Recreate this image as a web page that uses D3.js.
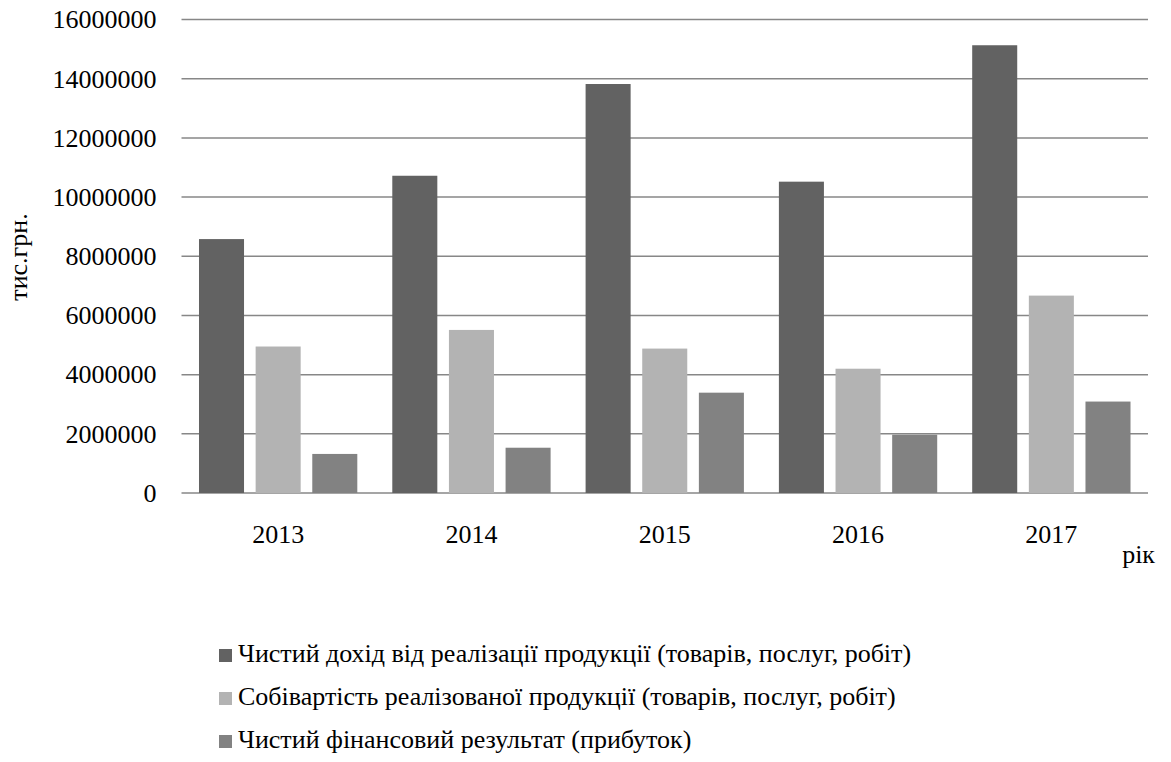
<!DOCTYPE html>
<html>
<head>
<meta charset="utf-8">
<script src="https://cdn.jsdelivr.net/npm/d3@7"></script>
<style>
  html, body { margin: 0; padding: 0; background: #fff; }
  svg text { font-family: "Liberation Serif", "Tinos", "DejaVu Serif", "Noto Serif", serif; fill: #000; }
</style>
</head>
<body>
<div id="chart"></div>
<script>
const years = ["2013", "2014", "2015", "2016", "2017"];
const seriesNames = [
  "Чистий дохід від реалізації продукції (товарів, послуг, робіт)",
  "Собівартість реалізованої продукції (товарів, послуг, робіт)",
  "Чистий фінансовий результат (прибуток)"
];
const netIncome = [8580000, 10720000, 13820000, 10520000, 15130000];
const costOfSales = [4950000, 5510000, 4880000, 4200000, 6670000];
const netProfit = [1320000, 1530000, 3390000, 1970000, 3090000];
const yTicks = [0, 2000000, 4000000, 6000000, 8000000, 10000000, 12000000, 14000000, 16000000];
const seriesColors = ["#626262", "#b3b3b3", "#828282"];

const fontFamily = "'Liberation Serif', 'Tinos', 'DejaVu Serif', 'Noto Serif', serif";
const width = 1171;
const height = 762;
const margin = { top: 19.5, right: 23, bottom: 269, left: 181.5 };

const svg = d3
  .select("#chart")
  .append("svg")
  .attr("width", width)
  .attr("height", height)
  .style("font-family", fontFamily);

const xScale = d3.scaleBand().domain(years).range([margin.left, width - margin.right]).padding(0);
const band = xScale.bandwidth();
const inner = d3
  .scaleBand()
  .domain(d3.range(seriesNames.length))
  .range([band * 0.0905, band * (1 - 0.0905)])
  .paddingInner(0.205)
  .paddingOuter(0);
const yScale = d3.scaleLinear().domain([0, 16000000]).range([height - margin.bottom, margin.top]);

// gridlines
svg
  .append("g")
  .selectAll("line")
  .data(yTicks)
  .enter()
  .append("line")
  .attr("x1", margin.left)
  .attr("x2", width - margin.right)
  .attr("y1", (d) => yScale(d))
  .attr("y2", (d) => yScale(d))
  .attr("stroke", "#878787")
  .attr("stroke-width", 1.5);

// y tick labels
const yAxis = d3.axisLeft(yScale).tickValues(yTicks).tickSize(0).tickPadding(0).tickFormat(d3.format("d"));
const yAxisG = svg
  .append("g")
  .attr("transform", `translate(${margin.left - 25}, 0)`)
  .call(yAxis)
  .attr("font-family", null)
  .attr("font-size", null);
yAxisG.select(".domain").remove();
yAxisG.selectAll("text").style("font-family", fontFamily).attr("font-size", 26).attr("fill", "#000");

// bars
const rows = years.map((year, i) => ({ year, values: [netIncome[i], costOfSales[i], netProfit[i]] }));
svg
  .append("g")
  .selectAll("g")
  .data(rows)
  .enter()
  .append("g")
  .attr("transform", (row) => `translate(${xScale(row.year)}, 0)`)
  .selectAll("rect")
  .data((row) => row.values.map((value, s) => ({ value, s })))
  .enter()
  .append("rect")
  .attr("x", (d) => inner(d.s))
  .attr("width", inner.bandwidth())
  .attr("y", (d) => yScale(d.value))
  .attr("height", (d) => yScale(0) - yScale(d.value))
  .attr("fill", (d) => seriesColors[d.s]);

// x labels
const xAxis = d3.axisBottom(xScale).tickSize(0).tickPadding(0);
const xAxisG = svg
  .append("g")
  .attr("transform", `translate(0, ${yScale(0) + 32})`)
  .call(xAxis)
  .attr("font-family", null)
  .attr("font-size", null);
xAxisG.select(".domain").remove();
xAxisG
  .selectAll("text")
  .attr("dy", 0)
  .attr("y", 18)
  .attr("font-size", 26)
  .style("font-family", fontFamily)
  .attr("fill", "#000");

// axis titles
svg
  .append("text")
  .attr("transform", "translate(27, 257) rotate(-90)")
  .attr("text-anchor", "middle")
  .attr("font-size", 26)
  .text("тис.грн.");

svg
  .append("text")
  .attr("x", 1155)
  .attr("y", 563)
  .attr("text-anchor", "end")
  .attr("font-size", 26)
  .text("рік");

// legend
const legend = svg
  .append("g")
  .selectAll("g")
  .data(seriesNames)
  .enter()
  .append("g")
  .attr("transform", (d, i) => `translate(219, ${662 + i * 43})`);

legend
  .append("rect")
  .attr("x", 0)
  .attr("y", -13)
  .attr("width", 13)
  .attr("height", 13)
  .attr("fill", (d, i) => seriesColors[i]);

legend
  .append("text")
  .attr("x", 19)
  .attr("y", 0)
  .attr("font-size", 26)
  .text((d) => d);
</script>
</body>
</html>
